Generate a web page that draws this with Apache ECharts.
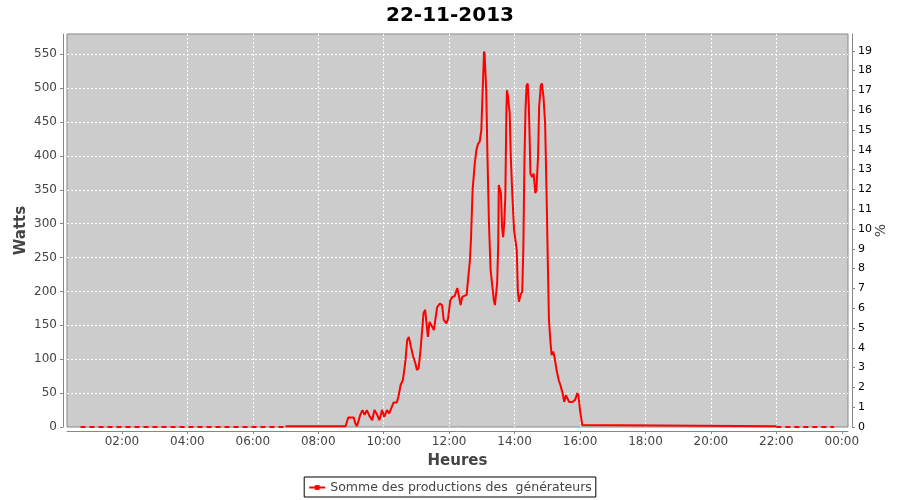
<!DOCTYPE html>
<html><head><meta charset="utf-8">
<script src="https://cdn.jsdelivr.net/npm/echarts@6/dist/echarts.min.js"></script>
<style>html,body{margin:0;padding:0;background:#fff}#c{width:900px;height:500px}</style>
</head><body><div id="c"></div>
<script>
const chartTitle = '22-11-2013';
const seriesName = 'Somme des productions des  générateurs';
const xTickHours = [2, 4, 6, 8, 10, 12, 14, 16, 18, 20, 22, 24];
const times = ['07:00','08:50','08:53','08:55','09:05','09:08','09:11','09:17','09:21','09:25','09:29','09:34','09:39','09:43','09:48','09:52','09:57','10:01','10:06','10:10','10:13','10:18','10:24','10:27','10:31','10:35','10:37','10:40','10:43','10:46','10:50','10:54','10:58','11:01','11:04','11:07','11:10','11:13','11:16','11:21','11:24','11:29','11:32','11:38','11:43','11:47','11:50','11:55','11:58','12:02','12:06','12:10','12:15','12:17','12:21','12:24','12:32','12:34','12:38','12:40','12:43','12:47','12:50','12:53','12:56','12:59','13:01','13:04','13:05','13:08','13:10','13:13','13:16','13:19','13:22','13:24','13:26','13:28','13:30','13:31','13:33','13:35','13:37','13:39','13:41','13:43','13:45','13:46','13:48','13:51','13:53','13:56','13:59','14:04','14:06','14:08','14:11','14:14','14:16','14:18','14:20','14:22','14:24','14:26','14:28','14:29','14:32','14:35','14:38','14:40','14:43','14:45','14:48','14:50','14:53','14:56','14:59','15:01','15:03','15:06','15:08','15:11','15:13','15:17','15:21','15:24','15:28','15:31','15:34','15:37','15:40','15:46','15:51','15:55','15:57','16:00','16:04','16:07','22:00'];
const watts = [1,1,2,14,14,5,1,18,25,18,25,16,10,25,18,10,25,15,25,20,26,36,36,45,62,69,80,99,128,133,118,104,94,84,87,109,138,168,173,133,155,148,143,177,182,180,158,153,160,187,192,193,205,197,180,192,195,212,245,277,350,389,409,418,421,438,487,554,551,497,409,300,232,209,187,180,180,212,271,357,359,345,295,280,300,340,468,497,487,463,399,340,291,261,200,185,195,200,261,389,468,504,507,477,413,374,369,374,345,350,399,472,504,507,487,448,330,240,158,123,106,111,104,84,69,62,50,37,47,42,37,37,40,50,47,25,3,1,1];
const idleTimes = ['00:44','07:00','-','22:00','23:46'];
const idleWatts = [0, 0, '-', 0, 0];

function toHours(s) { const p = s.split(':'); return +p[0] + (+p[1]) / 60; }
function pad(n) { return (n < 10 ? '0' : '') + n; }

const mainData = times.map((t, i) => [toHours(t), watts[i]]);
const idleData = idleTimes.map((t, i) => t === '-' ? ['-', '-'] : [toHours(t), idleWatts[i]]);

const font = 'DejaVu Sans';
const gridLine = { show: true, showMaxLine: false, showMinLine: false, lineStyle: { color: '#ffffff', width: 1, type: [2, 2] } };

const chart = echarts.init(document.getElementById('c'), null, { renderer: 'canvas' });
chart.setOption({
  animation: false,
  backgroundColor: '#ffffff',
  title: {
    text: chartTitle, left: 'center', top: 1,
    textStyle: { fontFamily: font, fontSize: 20, fontWeight: 'bold', color: '#000' }
  },
  legend: {
    data: [seriesName], left: 'center', top: 477,
    borderColor: '#000', borderWidth: 1, borderRadius: 0, padding: [4, 4, 3, 4],
    itemWidth: 16, itemHeight: 6,
    textStyle: { fontFamily: font, fontSize: 12.5, color: '#444' }
  },
  grid: {
    left: 67, right: 52, top: 34, bottom: 73, show: true,
    outerBoundsMode: 'none', containLabel: false,
    backgroundColor: '#cccccc', borderColor: '#888888', borderWidth: 1
  },
  xAxis: {
    type: 'value', min: 0.32, max: 24.19, offset: 4,
    name: 'Heures', nameLocation: 'middle', nameGap: 23,
    nameTextStyle: { fontFamily: font, fontSize: 15, fontWeight: 'bold', color: '#444' },
    axisLine: { show: true, onZero: false, lineStyle: { color: '#888888' } },
    axisTick: { show: true, customValues: xTickHours, length: 3, lineStyle: { color: '#888888' } },
    axisLabel: {
      customValues: xTickHours, margin: 5, color: '#444', fontFamily: font, fontSize: 12,
      formatter: v => pad(Math.round(v) % 24) + ':00'
    },
    splitLine: gridLine
  },
  yAxis: [{
    type: 'value', min: 0, max: 580, interval: 50, offset: 4, position: 'left',
    name: 'Watts', nameLocation: 'middle', nameGap: 34, nameRotate: 90, nameMoveOverlap: false,
    nameTextStyle: { fontFamily: font, fontSize: 15, fontWeight: 'bold', color: '#444' },
    axisLine: { show: true, lineStyle: { color: '#888888' } },
    axisTick: { show: true, length: 3, lineStyle: { color: '#888888' } },
    axisLabel: { margin: 6, color: '#444', fontFamily: font, fontSize: 12, showMaxLabel: false },
    splitLine: gridLine
  }, {
    type: 'value', min: 0, max: 19.85, interval: 1, offset: 4, position: 'right',
    name: '%', nameLocation: 'middle', nameGap: 22, nameRotate: 90, nameMoveOverlap: false,
    nameTextStyle: { fontFamily: font, fontSize: 14, color: '#444' },
    axisLine: { show: true, lineStyle: { color: '#888888' } },
    axisTick: { show: true, length: 3, lineStyle: { color: '#888888' } },
    axisLabel: { margin: 6, color: '#000', fontFamily: font, fontSize: 11, showMaxLabel: false },
    splitLine: { show: false }
  }],
  series: [{
    name: seriesName, type: 'line', data: mainData,
    showSymbol: false, symbol: 'rect', symbolSize: 3,
    lineStyle: { color: '#ff0000', width: 2 }, itemStyle: { color: '#ff0000' }
  }, {
    name: '', type: 'line', data: idleData, connectNulls: false,
    showSymbol: false, symbol: 'none', silent: true,
    lineStyle: { color: '#ff0000', width: 2, type: [5, 4] }
  }]
});
</script>
</body></html>
